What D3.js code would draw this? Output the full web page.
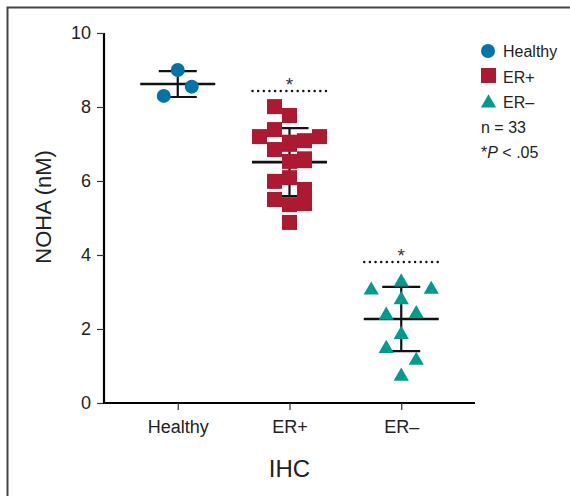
<!DOCTYPE html>
<html>
<head>
<meta charset="utf-8">
<style>
    body { margin: 0; background: #fff; }
    svg { display: block; font-family: 'Liberation Sans', Arial, sans-serif; }
</style>
</head>
<body>
<svg width="570" height="496"></svg>
<script src="https://d3js.org/d3.v7.min.js"></script>
<script>
    // groups on the x axis
    let groups = ["Healthy", "ER+", "ER\u2013"]
    let colors = ["#0073ab", "#ad1931", "#009b8f"]

    // NOHA values (nM), with the column slot each point sits in
    let healthyValues = [9.00, 8.55, 8.30]
    let healthySlots = [0, 1, -1]

    let erPosValues = [8.01, 7.77, 7.39, 7.20, 7.20, 7.09, 6.99, 6.85, 6.53, 6.55,
        6.09, 5.99, 5.77, 5.50, 5.36, 5.39, 4.88, 7.05, 6.60, 5.55]
    let erPosSlots = [-1, 0, -1, -2, 2, 1, 0, -1, 0, 1,
        0, -1, 1, -1, 0, 1, 0, 0, 1, 1]

    let erNegValues = [3.09, 3.31, 3.11, 2.83, 2.41, 2.45, 1.89, 1.51, 1.19, 0.76]
    let erNegSlots = [-2, 0, 2, 0, -1, 1, 0, -1, 1, 0]

    // mean and SD per group
    let means = [8.62, 6.51, 2.27]
    let sds = [0.35, 0.92, 0.87]

    // significance bars (height in nM) for ER+ and ER-
    let sigGroups = ["ER+", "ER\u2013"]
    let sigLevels = [8.43, 3.81]

    let yTicks = [0, 2, 4, 6, 8, 10]

    let svg = d3.select("svg")

    // frame on the left and top
    svg.append("path")
        .attr("d", "M7.5,496 L7.5,7.5 L570,7.5")
        .style("fill", "none")
        .style("stroke", "#444")
        .style("stroke-width", 2)

    let y = d3.scaleLinear().domain([0, 10]).range([403, 33])
    let x = d3.scalePoint().domain(groups).range([104, 475]).padding(0.66)
    let slotW = 15

    // y axis
    let yAxis = svg.append("g")
        .attr("transform", "translate(104,0)")
        .call(d3.axisLeft(y).tickValues(yTicks).tickSize(7).tickPadding(6))
    yAxis.select(".domain").attr("d", "M0," + y(10) + "V" + y(0)).style("stroke-width", 2.2)
    yAxis.selectAll(".tick line").style("stroke", "#333").style("stroke-width", 1.2)
    yAxis.selectAll("text").style("font-size", "18px").style("fill", "#222").style("font-family", "'Liberation Sans', Arial, sans-serif")

    // x axis
    let xAxis = svg.append("g")
        .attr("transform", "translate(0,403)")
        .call(d3.axisBottom(x).tickSize(7).tickPadding(10))
    xAxis.select(".domain").attr("d", "M103,0H475").style("stroke-width", 2.2)
    xAxis.selectAll(".tick line").style("stroke", "#333").style("stroke-width", 1.2)
    xAxis.selectAll("text").style("font-size", "18px").style("fill", "#222").style("font-family", "'Liberation Sans', Arial, sans-serif")

    // axis titles
    svg.append("text")
        .attr("transform", "translate(51," + y(5.3) + ") rotate(-90)")
        .attr("text-anchor", "middle")
        .style("font-size", "22px")
        .style("fill", "#222")
        .text("NOHA (nM)")

    svg.append("text")
        .attr("x", x("ER+"))
        .attr("y", 477)
        .attr("text-anchor", "middle")
        .style("font-size", "24px")
        .style("fill", "#222")
        .text("IHC")

    // mean lines and SD bars
    let summary = groups.map((g, i) => ({ g: g, mean: means[i], sd: sds[i] }))
    let bars = svg.append("g").style("stroke", "#111")

    bars.selectAll(".mean")
        .data(summary)
        .join("line")
        .attr("x1", d => x(d.g) - 37.5)
        .attr("x2", d => x(d.g) + 37.5)
        .attr("y1", d => y(d.mean))
        .attr("y2", d => y(d.mean))
        .style("stroke-width", 2.6)

    bars.selectAll(".sd")
        .data(summary)
        .join("line")
        .attr("x1", d => x(d.g))
        .attr("x2", d => x(d.g))
        .attr("y1", d => y(d.mean + d.sd))
        .attr("y2", d => y(d.mean - d.sd))
        .style("stroke-width", 2.2)

    summary.forEach(d => {
        [d.mean + d.sd, d.mean - d.sd].forEach(v => {
            bars.append("line")
                .attr("x1", x(d.g) - 19)
                .attr("x2", x(d.g) + 19)
                .attr("y1", y(v))
                .attr("y2", y(v))
                .style("stroke-width", 2.2)
        })
    })

    // points
    let healthy = healthyValues.map((v, i) => ({ v: v, s: healthySlots[i] }))
    let erPos = erPosValues.map((v, i) => ({ v: v, s: erPosSlots[i] }))
    let erNeg = erNegValues.map((v, i) => ({ v: v, s: erNegSlots[i] }))

    svg.selectAll(".healthy")
        .data(healthy)
        .join("circle")
        .attr("cx", d => x(groups[0]) + d.s * 14)
        .attr("cy", d => y(d.v))
        .attr("r", 7)
        .style("fill", colors[0])

    svg.selectAll(".erpos")
        .data(erPos)
        .join("rect")
        .attr("x", d => x(groups[1]) + d.s * slotW - 7.5)
        .attr("y", d => y(d.v) - 7.5)
        .attr("width", 15)
        .attr("height", 15)
        .style("fill", colors[1])

    let tri = d3.symbol().type(d3.symbolTriangle).size(100)
    svg.selectAll(".erneg")
        .data(erNeg)
        .join("path")
        .attr("d", tri)
        .attr("transform", d => "translate(" + (x(groups[2]) + d.s * slotW) + "," + (y(d.v) + 1.5) + ")")
        .style("fill", colors[2])

    // significance marks
    sigGroups.forEach((g, i) => {
        svg.append("line")
            .attr("x1", x(g) - 37)
            .attr("x2", x(g) + 37)
            .attr("y1", y(sigLevels[i]))
            .attr("y2", y(sigLevels[i]))
            .style("stroke", "#111")
            .style("stroke-width", 2.5)
            .style("stroke-linecap", "round")
            .style("stroke-dasharray", "0 5.65")
        svg.append("text")
            .attr("x", x(g))
            .attr("y", y(sigLevels[i]) - 0)
            .attr("text-anchor", "middle")
            .style("font-size", "19px")
            .style("fill", "#333")
            .text("*")
    })

    // legend
    let legend = svg.append("g").style("font-size", "16px").style("fill", "#222")
    legend.append("circle").attr("cx", 488).attr("cy", 51).attr("r", 7).style("fill", colors[0])
    legend.append("rect").attr("x", 481).attr("y", 68).attr("width", 15).attr("height", 15).style("fill", colors[1])
    legend.append("path").attr("d", tri).attr("transform", "translate(488.5,103)").style("fill", colors[2])
    let legendText = ["Healthy", "ER+", "ER\u2013"]
    legendText.forEach((t, i) => {
        legend.append("text").attr("x", 503).attr("y", 57 + i * 25.5).text(t)
    })
    legend.append("text").attr("x", 481).attr("y", 133).text("n = 33")
    let pt = legend.append("text").attr("x", 481).attr("y", 158)
    pt.append("tspan").text("*")
    pt.append("tspan").style("font-style", "italic").text("P")
    pt.append("tspan").text(" < .05")
</script>
</body>
</html>
